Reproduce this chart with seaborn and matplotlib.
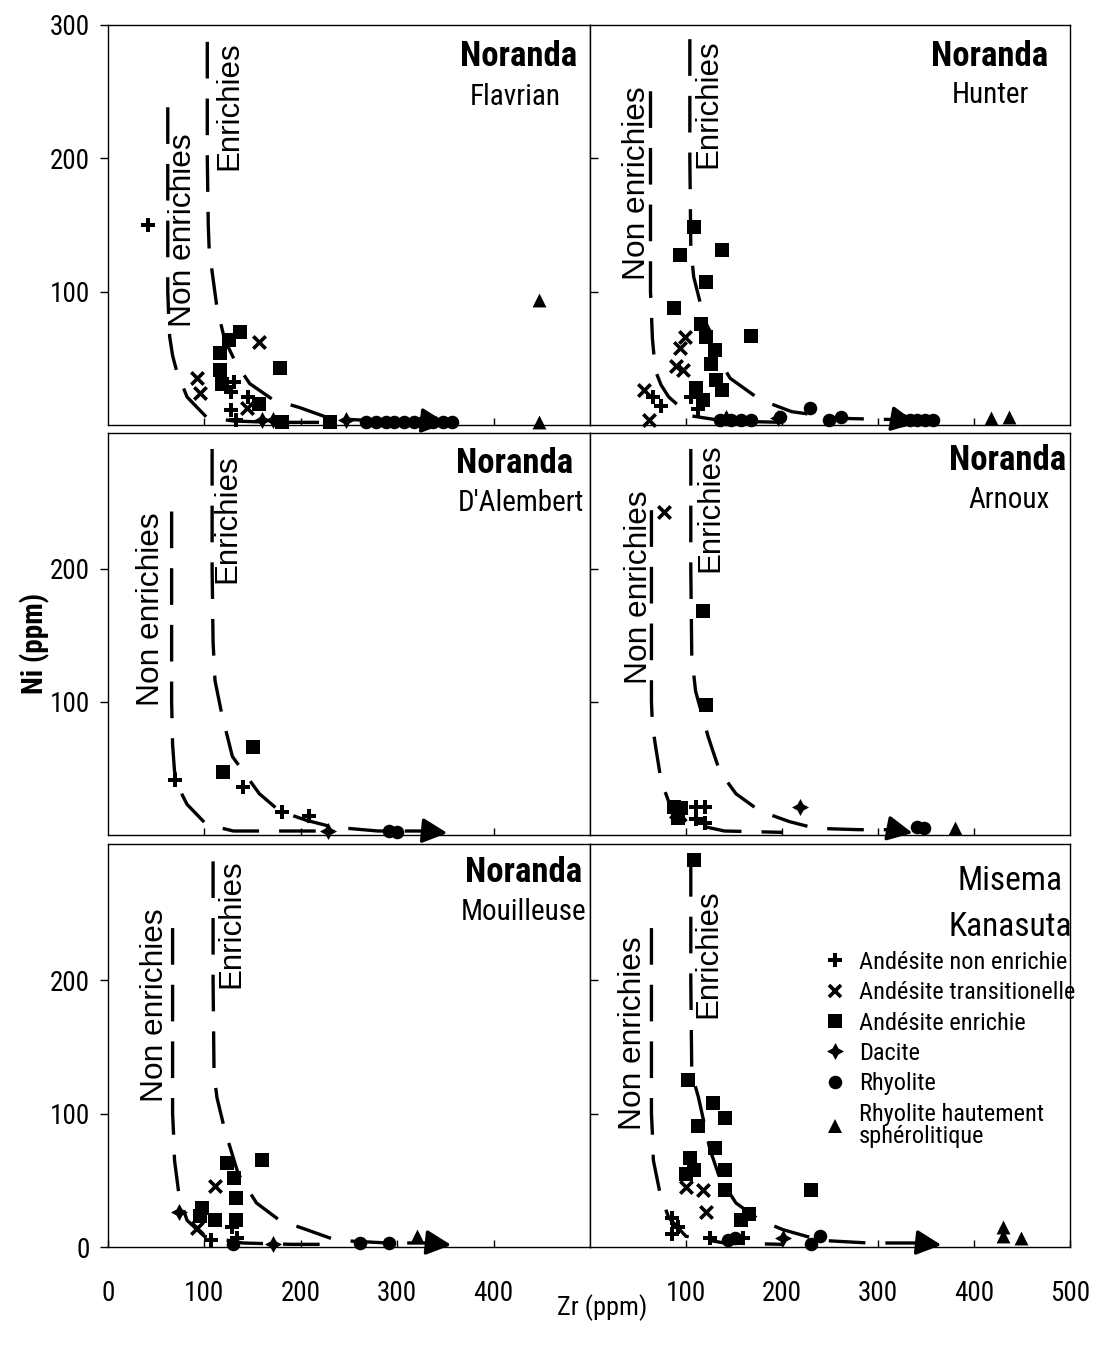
import os
import re
import matplotlib
matplotlib.use('Agg')
import matplotlib.pyplot as plt
from matplotlib import font_manager
from matplotlib.font_manager import FontProperties
from matplotlib.lines import Line2D
import seaborn as sns
import pandas as pd

sns.set_style('white')
plt.rcParams['font.family'] = ['Liberation Sans', 'DejaVu Sans']
for k in ['text.color', 'axes.labelcolor', 'xtick.color', 'ytick.color', 'axes.edgecolor']:
    plt.rcParams[k] = 'black'

BAD = ('italic', 'oblique', 'light', 'thin', 'medium', 'semi', 'extra', 'black', 'heavy', 'ultra', 'demi')


def find_condensed(bold=False):
    prefs = ['liberationsansnarrow', 'arialnarrow', 'robotocondensed', 'notosanscondensed',
             'dejavusanscondensed', 'opensanscondensed', 'opensans_condensed']
    files = [f.fname for f in font_manager.fontManager.ttflist]
    for p in prefs:
        for fn in files:
            b = re.sub(r'[^a-z_]', '', os.path.basename(fn).lower().rsplit('.', 1)[0])
            if not b.startswith(p.replace('_', '')) and not b.startswith(p):
                continue
            if any(w in b for w in BAD):
                continue
            if bold and 'bold' in b:
                return fn
            if not bold and 'bold' not in b:
                return fn
    return None


NARROW_R = find_condensed(False)
NARROW_B = find_condensed(True)
HAS_NARROW = NARROW_R is not None and NARROW_B is not None
WF = 1.0 if HAS_NARROW else 0.84


def fp(size, bold=False):
    if HAS_NARROW:
        return FontProperties(fname=NARROW_B if bold else NARROW_R, size=size)
    return FontProperties(family=['Liberation Sans', 'DejaVu Sans'], size=size * WF,
                          weight='bold' if bold else 'normal')


# ---------------- data ----------------
TYPE_CODES = ['N', 'T', 'E', 'D', 'R', 'S']
TYPE_LABELS = ['Andésite non enrichie', 'Andésite transitionelle', 'Andésite enrichie',
               'Dacite', 'Rhyolite', 'Rhyolite hautement\nsphérolitique']

# Flavrian
FLAV_X = [41, 131, 128, 128, 145, 133,
          92, 95, 157, 144,
          137, 126, 116, 116, 118, 178, 157, 180, 230,
          160, 171, 247,
          268, 278, 288, 297, 307, 317, 327, 337, 347, 357,
          447, 447]
FLAV_Y = [150, 32, 25, 11, 21, 4,
          35, 24, 62, 13,
          70, 64, 54, 41, 31, 43, 16, 2, 2,
          4, 4, 4,
          2, 2, 2, 2, 2, 2, 2, 2, 2, 2,
          94, 2]
FLAV_T = ['N'] * 6 + ['T'] * 4 + ['E'] * 9 + ['D'] * 3 + ['R'] * 10 + ['S'] * 2

# Hunter
HUNT_X = [66, 74, 105, 112,
          99, 94, 90, 97, 56, 61,
          108, 94, 137, 121, 87, 168, 116, 121, 130, 126, 110, 131, 137, 118,
          142, 196,
          135, 147, 157, 168, 198, 229, 249, 261, 325, 333, 341, 349, 357,
          120, 418, 436]
HUNT_Y = [21, 14, 21, 12,
          66, 58, 44, 41, 26, 4,
          148, 127, 131, 107, 88, 67, 76, 66, 56, 46, 28, 34, 26, 19,
          5, 5,
          4, 4, 4, 4, 6, 13, 4, 6, 4, 4, 4, 4, 4,
          75, 5, 6]
HUNT_T = ['N'] * 4 + ['T'] * 6 + ['E'] * 14 + ['D'] * 2 + ['R'] * 13 + ['S'] * 3

# D'Alembert
DALE_X = [69, 140, 180, 209, 119, 150, 228, 292, 300]
DALE_Y = [41, 36, 17, 14, 47, 66, 3, 3, 2]
DALE_T = ['N'] * 4 + ['E'] * 2 + ['D'] + ['R'] * 2

# Arnoux
ARNO_X = [110, 120, 110, 120, 77, 90, 118, 121, 87, 95, 92, 219, 341, 348, 380]
ARNO_Y = [21, 21, 12, 9, 243, 17, 168, 98, 21, 20, 13, 21, 6, 5, 5]
ARNO_T = ['N'] * 4 + ['T'] * 2 + ['E'] * 5 + ['D'] + ['R'] * 2 + ['S']

# Mouilleuse
MOUI_X = [107, 129, 134, 111, 92, 98, 95, 111, 123, 160, 131, 133, 133, 74, 171, 130, 261, 292, 321]
MOUI_Y = [5, 15, 7, 46, 14, 29, 23, 20, 63, 65, 52, 37, 20, 26, 2, 2, 3, 3, 8]
MOUI_T = ['N'] * 3 + ['T'] * 2 + ['E'] * 8 + ['D'] * 2 + ['R'] * 3 + ['S']

# Kanasuta
KANA_X = [85, 85, 92, 125, 159,
          100, 118, 121,
          108, 102, 113, 128, 141, 130, 141, 141, 104, 108, 166, 157, 230, 100,
          201,
          151, 144, 230, 240,
          430, 430, 449]
KANA_Y = [22, 10, 15, 7, 7,
          45, 43, 26,
          290, 125, 91, 108, 97, 74, 58, 43, 67, 58, 25, 20, 43, 55,
          7,
          7, 5, 2, 8,
          15, 8, 7]
KANA_T = ['N'] * 5 + ['T'] * 3 + ['E'] * 14 + ['D'] + ['R'] * 4 + ['S'] * 3

# boundary curves
FLAV_NE_X = [62, 62, 62, 63, 64, 67, 71, 82, 102, 130, 170, 230]
FLAV_NE_Y = [238, 150, 100, 80, 66, 52, 41, 21, 6, 3, 2, 2]
FLAV_EN_X = [103, 103, 104, 105, 113, 121, 133, 147, 171, 199, 230, 280, 330]
FLAV_EN_Y = [287, 200, 150, 131, 88, 64, 46, 31, 19, 13, 5, 3, 3]

HUNT_NE_X = [63, 63, 63, 64, 65, 68, 74, 82, 104, 140, 200]
HUNT_NE_Y = [250, 150, 100, 83, 65, 41, 30, 21, 7, 3, 2]
HUNT_EN_X = [104, 104, 105, 108, 115, 125, 146, 177, 210, 260, 320]
HUNT_EN_Y = [289, 200, 133, 111, 91, 60, 35, 19, 10, 5, 4]

DALE_NE_X = [66, 66, 66, 67, 69, 75, 82, 102, 130, 180, 230]
DALE_NE_Y = [243, 150, 100, 68, 48, 33, 23, 8, 3, 3, 3]
DALE_EN_X = [108, 108, 109, 111, 118, 129, 140, 157, 178, 206, 233, 280, 330]
DALE_EN_Y = [290, 200, 145, 116, 91, 59, 48, 31, 18, 11, 6, 3, 3]

ARNO_NE_X = [64, 64, 64, 65, 68, 74, 82, 102, 140, 200]
ARNO_NE_Y = [244, 150, 100, 83, 68, 41, 25, 9, 3, 2]
ARNO_EN_X = [105, 105, 106, 110, 123, 135, 152, 177, 208, 235, 280, 318]
ARNO_EN_Y = [290, 200, 134, 108, 74, 48, 31, 18, 10, 5, 4, 4]

MOUI_NE_X = [67, 67, 67, 68, 69, 74, 82, 100, 140, 190, 225]
MOUI_NE_Y = [239, 150, 100, 85, 65, 37, 20, 8, 3, 2, 2]
MOUI_EN_X = [109, 109, 110, 113, 121, 135, 154, 178, 202, 237, 290, 335]
MOUI_EN_Y = [289, 200, 130, 112, 88, 55, 33, 20, 14, 5, 3, 3]

KANA_NE_X = [64, 64, 64, 65, 66, 73, 82, 100, 140, 200]
KANA_NE_Y = [239, 150, 100, 85, 65, 40, 22, 8, 3, 2]
KANA_EN_X = [105, 105, 106, 113, 125, 135, 152, 177, 201, 240, 290, 345]
KANA_EN_Y = [290, 200, 130, 112, 73, 52, 33, 20, 13, 5, 3, 3]

# arrow tips at the end of the "Enrichies" curves (Zr)
ARROW_END = [351, 340, 352, 336, 356, 366]

REGION = ['Noranda', 'Noranda', 'Noranda', 'Noranda', 'Noranda', 'Misema']
CENTRE = ['Flavrian', 'Hunter', "D'Alembert", 'Arnoux', 'Mouilleuse', 'Kanasuta']

# ---------------- styles ----------------
MARKERS = {'N': 'P', 'T': 'x', 'E': 's', 'D': (4, 1, 0), 'R': 'o', 'S': '^'}
SIZES = {'N': 110, 'T': 80, 'E': 100, 'D': 150, 'R': 95, 'S': 100}

W, H = 1096, 1350
fig = plt.figure(figsize=(W / 100, H / 100), dpi=100)

cols = [(108, 590), (590, 1070)]
rows = [(24.5, 425), (433, 835), (844, 1247)]


def add_ax(r, c):
    x0, x1 = cols[c]
    y0, y1 = rows[r]
    return fig.add_axes([x0 / W, 1 - y1 / H, (x1 - x0) / W, (y1 - y0) / H])


panels = [
    (FLAV_X, FLAV_Y, FLAV_T, FLAV_NE_X, FLAV_NE_Y, FLAV_EN_X, FLAV_EN_Y),
    (HUNT_X, HUNT_Y, HUNT_T, HUNT_NE_X, HUNT_NE_Y, HUNT_EN_X, HUNT_EN_Y),
    (DALE_X, DALE_Y, DALE_T, DALE_NE_X, DALE_NE_Y, DALE_EN_X, DALE_EN_Y),
    (ARNO_X, ARNO_Y, ARNO_T, ARNO_NE_X, ARNO_NE_Y, ARNO_EN_X, ARNO_EN_Y),
    (MOUI_X, MOUI_Y, MOUI_T, MOUI_NE_X, MOUI_NE_Y, MOUI_EN_X, MOUI_EN_Y),
    (KANA_X, KANA_Y, KANA_T, KANA_NE_X, KANA_NE_Y, KANA_EN_X, KANA_EN_Y),
]

NE_LABEL = [(78, 146), (49, 181), (45, 170), (51, 186), (49, 181), (45, 160)]
EN_LABEL = [(126, 239), (123, 241), (124, 238), (125, 246), (128, 242), (123, 220)]

TITLE_POS = [((519, 56), (515, 97)), ((990, 56), (990, 95)),
             ((515, 464), (521, 503)), ((1008, 461), (1009, 500)),
             ((524, 873), (524, 912)), ((1010, 881), (1010, 927))]

DASH = (0, (11, 6))
TICK_FP = fp(19.5)
axes = []
for i, (px, py, pt, nex, ney, enx, eny) in enumerate(panels):
    r, c = divmod(i, 2)
    ax = add_ax(r, c)
    axes.append(ax)
    df = pd.DataFrame({'Zr': px, 'Ni': py, 'type': pt})
    sns.lineplot(x=nex, y=ney, sort=False, estimator=None, color='black', lw=2.4,
                 linestyle=DASH, ax=ax, zorder=2)
    sns.lineplot(x=enx, y=eny, sort=False, estimator=None, color='black', lw=2.4,
                 linestyle=DASH, ax=ax, zorder=2)
    ax.annotate('', xy=(ARROW_END[i], 1.5), xytext=(enx[-1], eny[-1]),
                arrowprops=dict(arrowstyle='-|>', mutation_scale=38, color='black', lw=2.4,
                                shrinkA=0, shrinkB=0),
                annotation_clip=False, zorder=3)
    for code in TYPE_CODES:
        sub = df[df['type'] == code]
        if sub.empty:
            continue
        kw = dict(marker=MARKERS[code], s=SIZES[code], color='black', ax=ax,
                  legend=False, clip_on=False, zorder=4)
        kw['linewidth'] = 2.6 if code == 'T' else 0
        sns.scatterplot(data=sub, x='Zr', y='Ni', **kw)

    ax.text(NE_LABEL[i][0], NE_LABEL[i][1], 'Non enrichies', rotation=90, ha='center',
            va='center', fontsize=22.8, family=['Liberation Sans', 'DejaVu Sans'], zorder=5)
    ax.text(EN_LABEL[i][0], EN_LABEL[i][1], 'Enrichies', rotation=90, ha='center',
            va='center', fontsize=22.5, family=['Liberation Sans', 'DejaVu Sans'], zorder=5)

    ax.set_xlim(0, 500)
    ax.set_ylim(0, 300 if r == 0 else 302)
    ax.set_xlabel('')
    ax.set_ylabel('')
    for s in ax.spines.values():
        s.set_color('black')
        s.set_linewidth(1.0)
    ax.set_xticks([100, 200, 300, 400])
    ax.tick_params(axis='x', direction='in', length=5, width=1, color='black',
                   labelbottom=False, bottom=True)
    if c == 0:
        ax.set_yticks([100, 200, 300] if r == 0 else ([0, 100, 200] if r == 2 else [100, 200]))
        ax.tick_params(axis='y', direction='out', length=6, width=1, color='black',
                       pad=7, left=True)
    else:
        ax.set_yticks([100, 200])
        ax.tick_params(axis='y', direction='in', length=6, width=1, color='black',
                       labelleft=False, left=True)
    if r == 2:
        ax.set_xticks([0, 100, 200, 300, 400] if c == 0 else [100, 200, 300, 400, 500])
        ax.tick_params(axis='x', labelbottom=True, pad=24)
    for lab in ax.get_xticklabels() + ax.get_yticklabels():
        lab.set_fontproperties(TICK_FP)
    ax.grid(False)

    (tx, ty), (sx, sy) = TITLE_POS[i]
    if REGION[i] == 'Noranda':
        fig.text(tx / W, 1 - ty / H, REGION[i], ha='center', va='center',
                 fontproperties=fp(25, True))
        fig.text(sx / W, 1 - sy / H, CENTRE[i], ha='center', va='center',
                 fontproperties=fp(21))
    else:
        fig.text(tx / W, 1 - ty / H, REGION[i], ha='center', va='center',
                 fontproperties=fp(24))
        fig.text(sx / W, 1 - sy / H, CENTRE[i], ha='center', va='center',
                 fontproperties=fp(24))

# legend in the Kanasuta panel
handles = []
for code in TYPE_CODES:
    m = MARKERS[code]
    if code == 'T':
        h = Line2D([], [], marker=m, color='black', linestyle='none', markersize=9,
                   markeredgewidth=2.6)
    else:
        h = Line2D([], [], marker=m, color='black', linestyle='none',
                   markersize=SIZES[code] ** 0.5, markeredgewidth=0)
    handles.append(h)
leg = axes[5].legend(handles, TYPE_LABELS, loc='upper left',
                     bbox_to_anchor=(820 / W, 1 - 951 / H), bbox_transform=fig.transFigure,
                     frameon=False, prop=fp(17.6), handlelength=1.2, handletextpad=0.4,
                     labelspacing=0.3, borderpad=0, borderaxespad=0)
for t in leg.get_texts():
    t.set_linespacing(0.95)

fig.text(35 / W, 1 - 643 / H, 'Ni (ppm)', rotation=90, ha='center', va='center',
         fontproperties=fp(21, True))
fig.text(602 / W, 1 - 1308 / H, 'Zr (ppm)', ha='center', va='center',
         fontproperties=fp(19))

fig.savefig('out.png', dpi=100)
